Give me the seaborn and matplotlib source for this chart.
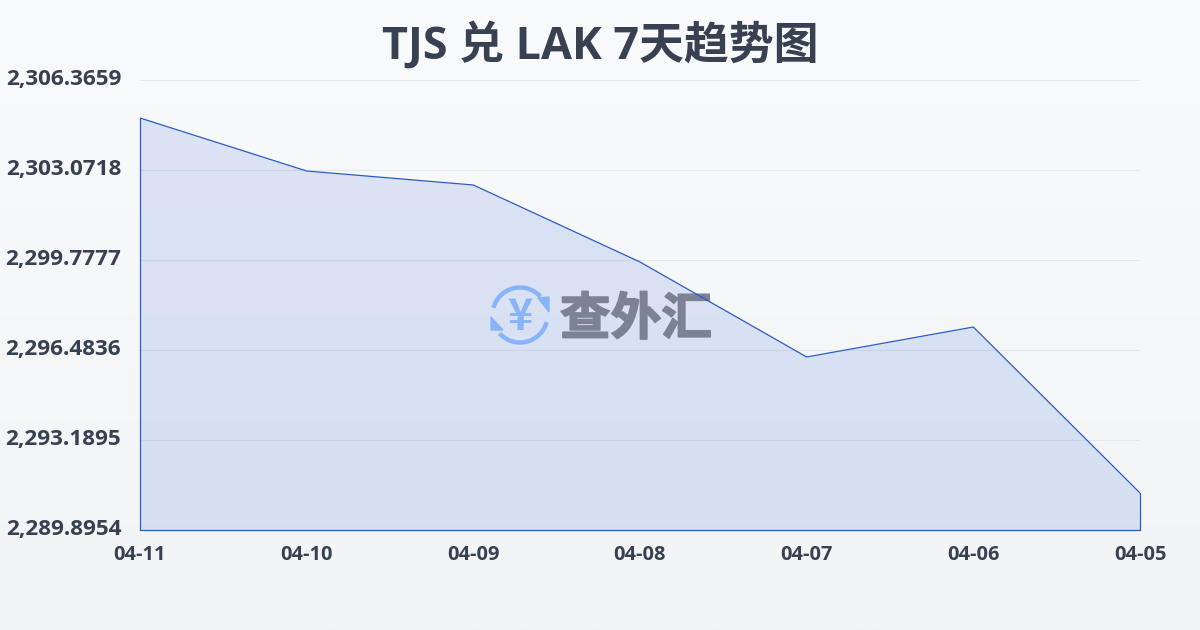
import numpy as np
import seaborn as sns
import matplotlib.pyplot as plt
import matplotlib.patheffects as pe
from matplotlib.colors import LinearSegmentedColormap
from matplotlib.patches import Arc, Polygon
from matplotlib.transforms import ScaledTranslation

# 数据
dates = ['04-11', '04-10', '04-09', '04-08', '04-07', '04-06', '04-05']
rates = [2304.975, 2303.035, 2302.523, 2299.705, 2296.228, 2297.325, 2291.250]
y_ticks = [2289.8954, 2293.1895, 2296.4836, 2299.7777, 2303.0718, 2306.3659]

sns.set_theme(style='white')
plt.rcParams['font.family'] = ['Open Sans', 'Noto Sans CJK SC', 'DejaVu Sans']

text_color = '#374151'
line_color = '#2a5cc4'
fill_color = '#2a62da'
grid_color = '#e5e7eb'

fig = plt.figure(figsize=(12, 6.3), dpi=100)

# 背景渐变
bg = fig.add_axes([0, 0, 1, 1], zorder=0)
bg.imshow(np.linspace(0, 1, 256).reshape(-1, 1), aspect='auto', extent=(0, 1200, 0, 630),
          cmap=LinearSegmentedColormap.from_list('bg', ['#f9fafb', '#f3f4f6']))
bg.set_xlim(0, 1200)
bg.set_ylim(0, 630)
bg.axis('off')

ax = fig.add_axes([140 / 1200, 100 / 630, 1000 / 1200, 450 / 630], zorder=1)
ax.patch.set_alpha(0)

x = np.arange(len(dates))
ax.fill_between(x, rates, y_ticks[0], color=fill_color, alpha=0.14, lw=0, zorder=1)

# 水印 (像素坐标, 压在填充上、折线下)
logo_blue = '#8ab4f8'
wm = bg.transData
ax.add_patch(Arc((520, 315), 55, 55, theta1=42, theta2=165, color=logo_blue, lw=3.2, transform=wm, zorder=2))
ax.add_patch(Arc((520, 315), 55, 55, theta1=222, theta2=345, color=logo_blue, lw=3.2, transform=wm, zorder=2))
ax.add_patch(Polygon([(538, 332), (549, 333), (549, 318)], color=logo_blue, transform=wm, zorder=2))
ax.add_patch(Polygon([(491, 313), (503, 300), (491, 300)], color=logo_blue, transform=wm, zorder=2))
ax.text(520, 313, '¥', color=logo_blue, fontsize=31, fontweight='bold', ha='center', va='center',
        family='Noto Sans CJK SC', transform=wm, zorder=2)
wm_text = ax.text(636, 310, '查外汇', color='#7a8294', fontsize=36.5, fontweight='bold', ha='center', va='center',
                  family='Noto Sans CJK SC', transform=wm, zorder=2)
wm_text.set_path_effects([pe.withStroke(linewidth=1.2, foreground='#7a8294')])

sns.lineplot(x=x, y=rates, ax=ax, color=line_color, lw=0.9, zorder=3)
ax.plot([x[0], x[0]], [y_ticks[0], rates[0]], color=line_color, lw=0.9, zorder=3, clip_on=False)
ax.plot([x[-1], x[-1]], [y_ticks[0], rates[-1]], color=line_color, lw=0.9, zorder=3, clip_on=False)
ax.plot([x[0], x[-1]], [y_ticks[0], y_ticks[0]], color=line_color, lw=0.9, zorder=3, clip_on=False)

ax.set_xlim(x[0], x[-1])
ax.set_ylim(y_ticks[0], y_ticks[-1])
ax.set_xticks(x, dates)
ax.set_yticks(y_ticks, [f'{v:,.4f}' for v in y_ticks])
ax.grid(axis='y', color=grid_color, lw=0.8)
ax.set_axisbelow(True)
sns.despine(ax=ax, left=True, bottom=True)

ax.tick_params(axis='x', length=7, width=0.8, color=grid_color, pad=4, labelsize=14.4, labelcolor=text_color)
ax.tick_params(axis='y', length=0, pad=13.5, labelsize=16.2, labelcolor=text_color)
for lab in ax.get_xticklabels():
    lab.set_fontweight('bold')
# y轴标签比刻度线略高
up = ScaledTranslation(0, 2 / 72, fig.dpi_scale_trans)
for lab in ax.get_yticklabels():
    lab.set_fontweight('bold')
    lab.set_transform(lab.get_transform() + up)

fig.text(600 / 1200, 1 - 46 / 630, 'TJS 兑 LAK 7天趋势图', color=text_color, fontsize=32.3,
         fontweight='bold', ha='center', va='center')

fig.savefig('out.png', dpi=100)
